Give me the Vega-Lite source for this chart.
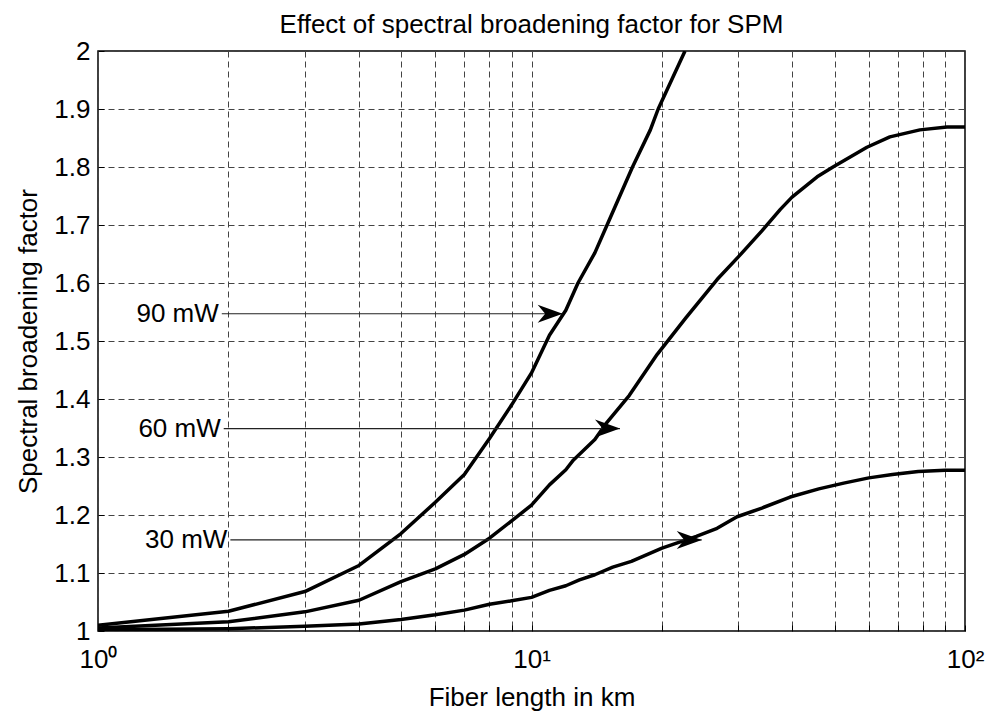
{
  "$schema": "https://vega.github.io/schema/vega-lite/v6.json",
  "width": 867,
  "height": 580,
  "autosize": {"type": "none"},
  "padding": {"left": 98, "top": 51, "right": 22, "bottom": 82},
  "background": "white",
  "config": {
    "font": "Liberation Sans",
    "view": {"stroke": "black", "strokeWidth": 1.5},
    "axis": {
      "domain": false,
      "grid": true,
      "gridColor": "#444444",
      "gridDash": [6, 4],
      "gridWidth": 1,
      "ticks": true,
      "tickSize": -6,
      "tickColor": "black",
      "labelFont": "Liberation Sans",
      "labelFontSize": 26,
      "labelColor": "black",
      "titleFont": "Liberation Sans",
      "titleFontSize": 26,
      "titleFontWeight": "normal",
      "titleColor": "black"
    }
  },
  "title": {
    "text": "Effect of spectral broadening factor for SPM",
    "font": "Liberation Sans",
    "fontSize": 26,
    "fontWeight": "normal",
    "color": "black",
    "anchor": "middle",
    "offset": 0
  },
  "datasets": {
    "curves": [
      {"power": "90 mW", "length": 1, "factor": 1.01},
      {"power": "90 mW", "length": 2, "factor": 1.034},
      {"power": "90 mW", "length": 3, "factor": 1.068},
      {"power": "90 mW", "length": 4, "factor": 1.113},
      {"power": "90 mW", "length": 5, "factor": 1.168},
      {"power": "90 mW", "length": 6, "factor": 1.222},
      {"power": "90 mW", "length": 7, "factor": 1.27},
      {"power": "90 mW", "length": 8, "factor": 1.332},
      {"power": "90 mW", "length": 9, "factor": 1.39},
      {"power": "90 mW", "length": 10, "factor": 1.445},
      {"power": "90 mW", "length": 11, "factor": 1.51},
      {"power": "90 mW", "length": 12, "factor": 1.553},
      {"power": "90 mW", "length": 12.8, "factor": 1.6},
      {"power": "90 mW", "length": 14, "factor": 1.652},
      {"power": "90 mW", "length": 15, "factor": 1.703},
      {"power": "90 mW", "length": 17.1, "factor": 1.8},
      {"power": "90 mW", "length": 18.8, "factor": 1.864},
      {"power": "90 mW", "length": 19.6, "factor": 1.9},
      {"power": "90 mW", "length": 22.6, "factor": 2.0},
      {"power": "60 mW", "length": 1, "factor": 1.005},
      {"power": "60 mW", "length": 2, "factor": 1.016},
      {"power": "60 mW", "length": 3, "factor": 1.033},
      {"power": "60 mW", "length": 4, "factor": 1.053},
      {"power": "60 mW", "length": 5, "factor": 1.085},
      {"power": "60 mW", "length": 6, "factor": 1.107},
      {"power": "60 mW", "length": 7, "factor": 1.132},
      {"power": "60 mW", "length": 8, "factor": 1.16},
      {"power": "60 mW", "length": 9, "factor": 1.19},
      {"power": "60 mW", "length": 10, "factor": 1.217},
      {"power": "60 mW", "length": 11, "factor": 1.252},
      {"power": "60 mW", "length": 12, "factor": 1.278},
      {"power": "60 mW", "length": 12.5, "factor": 1.295},
      {"power": "60 mW", "length": 14, "factor": 1.33},
      {"power": "60 mW", "length": 14.9, "factor": 1.359},
      {"power": "60 mW", "length": 16.8, "factor": 1.406},
      {"power": "60 mW", "length": 19.5, "factor": 1.477},
      {"power": "60 mW", "length": 22.7, "factor": 1.54},
      {"power": "60 mW", "length": 26.8, "factor": 1.606},
      {"power": "60 mW", "length": 30, "factor": 1.645},
      {"power": "60 mW", "length": 34, "factor": 1.69},
      {"power": "60 mW", "length": 37.5, "factor": 1.727},
      {"power": "60 mW", "length": 39.9, "factor": 1.748},
      {"power": "60 mW", "length": 45.6, "factor": 1.783},
      {"power": "60 mW", "length": 49.6, "factor": 1.8},
      {"power": "60 mW", "length": 59.4, "factor": 1.834},
      {"power": "60 mW", "length": 67.1, "factor": 1.852},
      {"power": "60 mW", "length": 78.7, "factor": 1.864},
      {"power": "60 mW", "length": 90.9, "factor": 1.869},
      {"power": "60 mW", "length": 100, "factor": 1.869},
      {"power": "30 mW", "length": 1, "factor": 1.002},
      {"power": "30 mW", "length": 2, "factor": 1.004},
      {"power": "30 mW", "length": 3, "factor": 1.008},
      {"power": "30 mW", "length": 4, "factor": 1.012},
      {"power": "30 mW", "length": 5, "factor": 1.02},
      {"power": "30 mW", "length": 6, "factor": 1.028},
      {"power": "30 mW", "length": 7, "factor": 1.036},
      {"power": "30 mW", "length": 8, "factor": 1.046},
      {"power": "30 mW", "length": 9, "factor": 1.052},
      {"power": "30 mW", "length": 10, "factor": 1.058},
      {"power": "30 mW", "length": 11, "factor": 1.07},
      {"power": "30 mW", "length": 12, "factor": 1.078},
      {"power": "30 mW", "length": 12.9, "factor": 1.088},
      {"power": "30 mW", "length": 14, "factor": 1.097},
      {"power": "30 mW", "length": 15.4, "factor": 1.11},
      {"power": "30 mW", "length": 17, "factor": 1.12},
      {"power": "30 mW", "length": 20, "factor": 1.143},
      {"power": "30 mW", "length": 24, "factor": 1.163},
      {"power": "30 mW", "length": 26.8, "factor": 1.177},
      {"power": "30 mW", "length": 29.8, "factor": 1.197},
      {"power": "30 mW", "length": 34, "factor": 1.212},
      {"power": "30 mW", "length": 39.5, "factor": 1.231},
      {"power": "30 mW", "length": 46, "factor": 1.245},
      {"power": "30 mW", "length": 52.5, "factor": 1.255},
      {"power": "30 mW", "length": 60, "factor": 1.264},
      {"power": "30 mW", "length": 68, "factor": 1.27},
      {"power": "30 mW", "length": 78, "factor": 1.275},
      {"power": "30 mW", "length": 90, "factor": 1.277},
      {"power": "30 mW", "length": 100, "factor": 1.277}
    ],
    "arrows": [
      {"label": "90 mW", "start": 1.93, "tip": 11.8, "factor": 1.547},
      {"label": "60 mW", "start": 1.95, "tip": 16.0, "factor": 1.349},
      {"label": "30 mW", "start": 2.02, "tip": 24.7, "factor": 1.157}
    ]
  },
  "layer": [
    {
      "data": {"name": "curves"},
      "mark": {"type": "line", "color": "black", "strokeWidth": 3.5, "clip": true, "strokeJoin": "round"},
      "encoding": {
        "x": {
          "field": "length",
          "type": "quantitative",
          "scale": {"type": "log", "domain": [1, 100], "nice": false},
          "axis": {
            "title": "Fiber length in km",
            "values": [1, 2, 3, 4, 5, 6, 7, 8, 9, 10, 20, 30, 40, 50, 60, 70, 80, 90, 100],
            "labelExpr": "datum.value == 1 ? '10⁰' : datum.value == 10 ? '10¹' : datum.value == 100 ? '10²' : ''",
            "labelPadding": 21,
            "titlePadding": 12,
            "labelFlush": false,
            "labelOverlap": false
          }
        },
        "y": {
          "field": "factor",
          "type": "quantitative",
          "scale": {"domain": [1, 2], "nice": false, "zero": false},
          "axis": {
            "title": "Spectral broadening factor",
            "values": [1, 1.1, 1.2, 1.3, 1.4, 1.5, 1.6, 1.7, 1.8, 1.9, 2],
            "format": "~g",
            "labelPadding": 14,
            "titlePadding": 12,
            "labelFlush": false,
            "labelOverlap": false
          }
        },
        "detail": {"field": "power", "type": "nominal"}
      }
    },
    {
      "data": {"name": "arrows"},
      "mark": {"type": "rule", "color": "#222222", "strokeWidth": 1.2},
      "encoding": {
        "x": {"field": "start", "type": "quantitative"},
        "x2": {"field": "tip"},
        "y": {"field": "factor", "type": "quantitative"}
      }
    },
    {
      "data": {"name": "arrows"},
      "mark": {"type": "point", "shape": "M0,0L-1,-0.36L-0.7,0L-1,0.36Z", "filled": true, "color": "black", "opacity": 1, "size": 2500, "strokeWidth": 0},
      "encoding": {
        "x": {"field": "tip", "type": "quantitative"},
        "y": {"field": "factor", "type": "quantitative"}
      }
    },
    {
      "data": {"name": "arrows"},
      "mark": {"type": "text", "align": "right", "baseline": "middle", "dx": -3, "font": "Liberation Sans", "fontSize": 26, "color": "black"},
      "encoding": {
        "x": {"field": "start", "type": "quantitative"},
        "y": {"field": "factor", "type": "quantitative"},
        "text": {"field": "label", "type": "nominal"}
      }
    }
  ]
}
